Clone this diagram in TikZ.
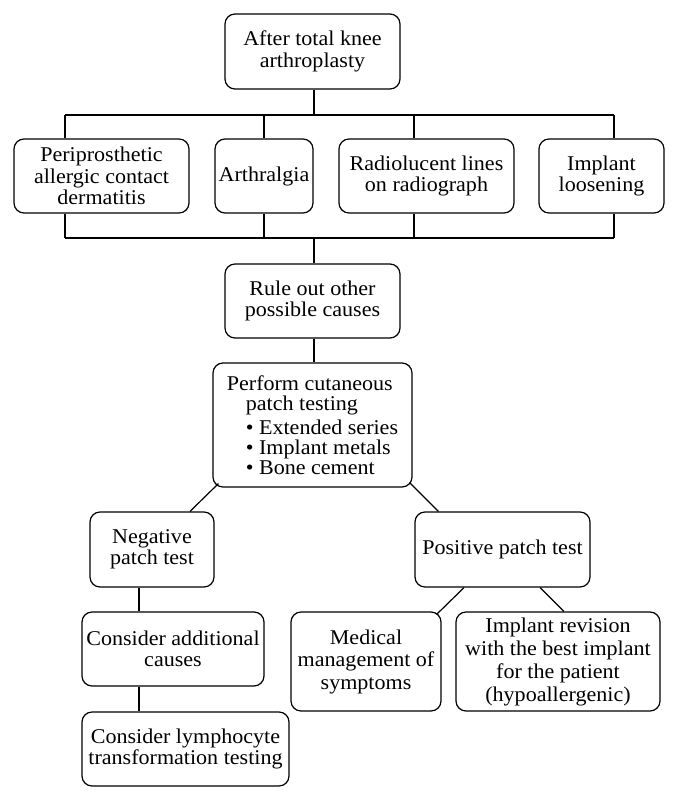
\documentclass[tikz,border=0pt]{standalone}
\usepackage{fontspec}
\setmainfont[FakeStretch=1.05]{Liberation Serif}
\usetikzlibrary{calc}
\begin{document}
\begin{tikzpicture}[x=1pt,y=-1pt,
  box/.style={draw, line width=1.2pt, rounded corners=10pt, align=center,
    inner sep=0pt, font=\fontsize{21}{21.5}\selectfont},
  link/.style={line width=1.2pt}]
\useasboundingbox (0,0) rectangle (675,800);
\fill[white] (0,0) rectangle (675,800);
% nodes
\node[box, minimum width=175pt, minimum height=75pt] (top) at (312.5,51.5) {After total knee\\arthroplasty};
\node[box, minimum width=175pt, minimum height=74pt] (b1) at (101.5,176) {Periprosthetic\\allergic contact\\dermatitis};
\node[box, minimum width=98pt, minimum height=74pt] (b2) at (264,176) {Arthralgia};
\node[box, minimum width=175pt, minimum height=74pt] (b3) at (426.5,176) {Radiolucent lines\\on radiograph};
\node[box, minimum width=125pt, minimum height=74pt] (b4) at (601.5,176) {Implant\\loosening};
\node[box, minimum width=175pt, minimum height=74pt] (rule) at (312.5,301) {Rule out other\\possible causes};
\node[box, minimum width=199pt, minimum height=124pt, align=left, font=\fontsize{21}{20}\selectfont] (perform) at (312.5,425)
  {Perform cutaneous\\\hspace*{19pt}patch testing\\[4pt]\hspace*{19pt}• Extended series\\\hspace*{19pt}• Implant metals\\\hspace*{19pt}• Bone cement};
\node[box, minimum width=124pt, minimum height=75pt] (neg) at (152,549.5) {Negative\\patch test};
\node[box, minimum width=175pt, minimum height=75pt] (pos) at (502.5,549.5) {Positive patch test};
\node[box, minimum width=182pt, minimum height=74pt] (add) at (173,649) {Consider additional\\causes};
\node[box, minimum width=207pt, minimum height=74pt] (lym) at (185.5,749) {Consider lymphocyte\\transformation testing};
\node[box, minimum width=150pt, minimum height=99pt, font=\fontsize{21}{22.5}\selectfont] (med) at (366,661.5) {Medical\\management of\\symptoms};
\node[box, minimum width=204pt, minimum height=99pt, font=\fontsize{21}{23}\selectfont] (rev) at (558,661.5) {Implant revision\\with the best implant\\for the patient\\(hypoallergenic)};
% bus coordinates
\coordinate (t0) at (314,115);
\coordinate (t1) at (65,115);
\coordinate (t2) at (264,115);
\coordinate (t3) at (414,115);
\coordinate (t4) at (614,115);
\coordinate (u0) at (314,238);
\coordinate (u1) at (65,238);
\coordinate (u2) at (264,238);
\coordinate (u3) at (414,238);
\coordinate (u4) at (614,238);
% connectors
\draw[link] (top.south -| t0) -- (t0);
\draw[link] (t1) -- (t4);
\draw[link] (t1) -- (b1.north -| t1);
\draw[link] (t2) -- (b2.north -| t2);
\draw[link] (t3) -- (b3.north -| t3);
\draw[link] (t4) -- (b4.north -| t4);
\draw[link] (b1.south -| u1) -- (u1);
\draw[link] (b2.south -| u2) -- (u2);
\draw[link] (b3.south -| u3) -- (u3);
\draw[link] (b4.south -| u4) -- (u4);
\draw[link] (u1) -- (u4);
\draw[link] (u0) -- (rule.north -| u0);
\draw[link] (rule.south -| u0) -- (perform.north -| u0);
\draw[link] ($(perform.south west)+(6,-4)$) -- ($(neg.north)+(38,0)$);
\draw[link] ($(perform.south east)+(-3,-5)$) -- ($(pos.north west)+(24,0)$);
\draw[link] ($(neg.south)+(-13,0)$) -- ($(add.north)+(-34,0)$);
\draw[link] ($(add.south)+(-34,0)$) -- ($(lym.north)+(-46.5,0)$);
\draw[link] ($(pos.south)+(-38.5,0)$) -- ($(med.north east)+(-5,3)$);
\draw[link] ($(pos.south)+(37.5,0)$) -- ($(rev.north)+(6,0)$);
\end{tikzpicture}
\end{document}
